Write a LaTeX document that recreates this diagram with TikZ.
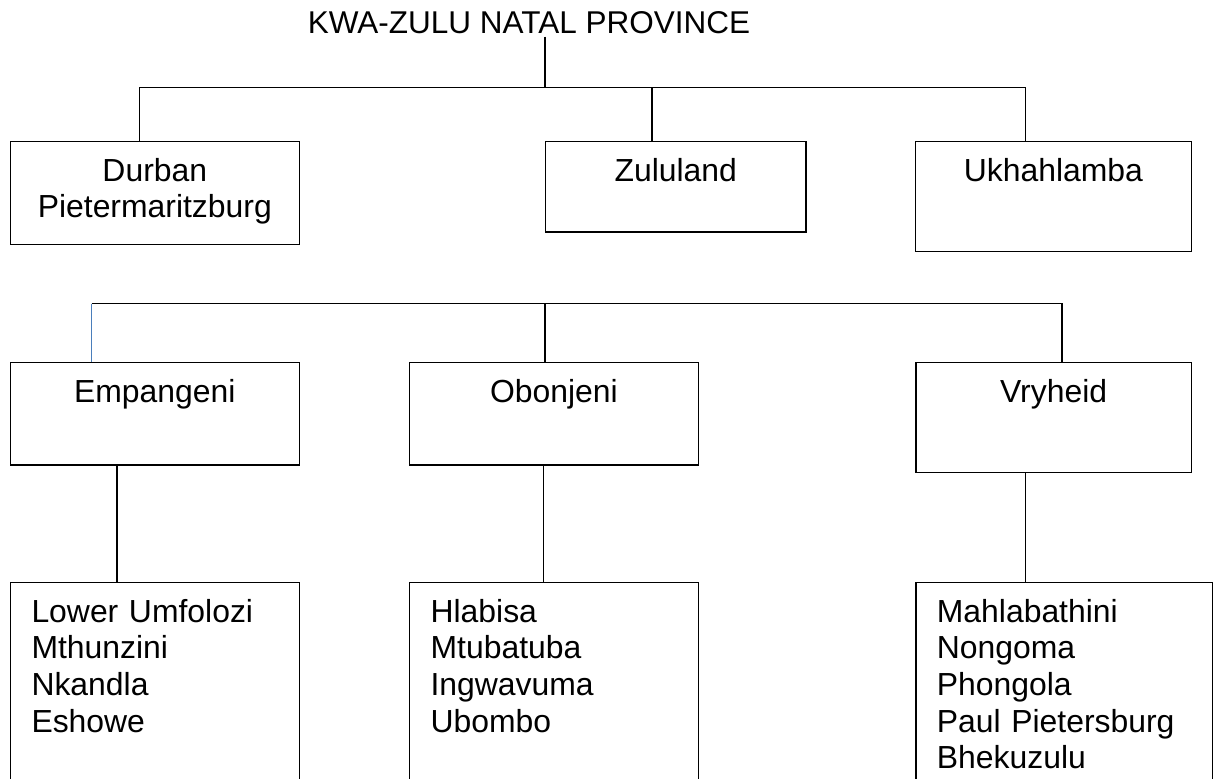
\documentclass[tikz,border=0pt]{standalone}
\usepackage{fontspec}
\setmainfont{Liberation Sans}
\usepackage{tikz}
\definecolor{linkblue}{RGB}{74,126,187}
\tikzstyle{heading}=[font=\fontsize{31.5pt}{36.6pt}\selectfont, inner sep=2.7pt, anchor=base]
\tikzstyle{office}=[draw, line width=1.2pt, anchor=north west, inner xsep=21pt, inner ysep=0pt,
                    text height=40pt, font=\fontsize{31.9pt}{36.6pt}\selectfont]
\tikzstyle{link}=[line width=1.3pt]
\tikzstyle{blue-link}=[link, draw=linkblue]

\begin{document}
\begin{tikzpicture}[x=1pt,y=-1pt]
\useasboundingbox (0,0) rectangle (1213,779);
\clip (0,0) rectangle (1213,779);
\node[heading] (title) at (529,33.3) {KWA-ZULU NATAL PROVINCE};
\node[office, text width=246.6pt, align=center, text depth=63.3pt] (dpm) at (9.9,140.7) {Durban\\Pietermaritzburg};
\node[office, text width=218.3pt, align=center, text depth=50.6pt] (zul) at (545,140.7) {Zululand};
\node[office, text width=233.7pt, align=center, text depth=70.3pt] (ukh) at (915,140.7) {Ukhahlamba};
\node[office, text width=246.6pt, align=center, text depth=62.6pt] (emp) at (9.9,361.7) {Empangeni};
\node[office, text width=246.7pt, align=center, text depth=62.6pt] (obo) at (409,361.7) {Obonjeni};
\node[office, text width=233.4pt, align=center, text depth=70.3pt] (vry) at (915.3,361.7) {Vryheid};
\node[office, text width=246.6pt, align=left, text depth=200pt] (lum) at (9.9,581.7) {Lower Umfolozi\\Mthunzini\\Nkandla\\Eshowe};
\node[office, text width=246.7pt, align=left, text depth=200pt] (hla) at (409,581.7) {Hlabisa\\Mtubatuba\\Ingwavuma\\Ubombo};
\node[office, text width=255pt, align=left, text depth=200pt] (mah) at (915.3,581.7) {Mahlabathini\\Nongoma\\Phongola\\Paul Pietersburg\\Bhekuzulu};
\coordinate (a0) at (545,87.5);
\coordinate (a1) at (139.3,87.5);
\coordinate (a2) at (652,87.5);
\coordinate (a3) at (1025.7,87.5);
\draw[link] (title.south -| a0) -- (a0);
\draw[link] (a1 |- dpm.north) -- (a1) -- (a3) -- (a3 |- ukh.north);
\draw[link] (a2) -- (a2 |- zul.north);
\coordinate (b1) at (91.7,303.5);
\coordinate (b2) at (545,303.5);
\coordinate (b3) at (1062,303.5);
\draw[blue-link] (b1) -- (b1 |- emp.north);
\draw[link] (b1) -- (b3) -- (b3 |- vry.north);
\draw[link] (b2) -- (b2 |- obo.north);
\coordinate (c1) at (117,581.7);
\coordinate (c2) at (543.3,581.7);
\coordinate (c3) at (1025.7,581.7);
\draw[link] (c1 |- emp.south) -- (c1 |- lum.north);
\draw[link] (c2 |- obo.south) -- (c2 |- hla.north);
\draw[link] (c3 |- vry.south) -- (c3 |- mah.north);

\end{tikzpicture}
\end{document}
